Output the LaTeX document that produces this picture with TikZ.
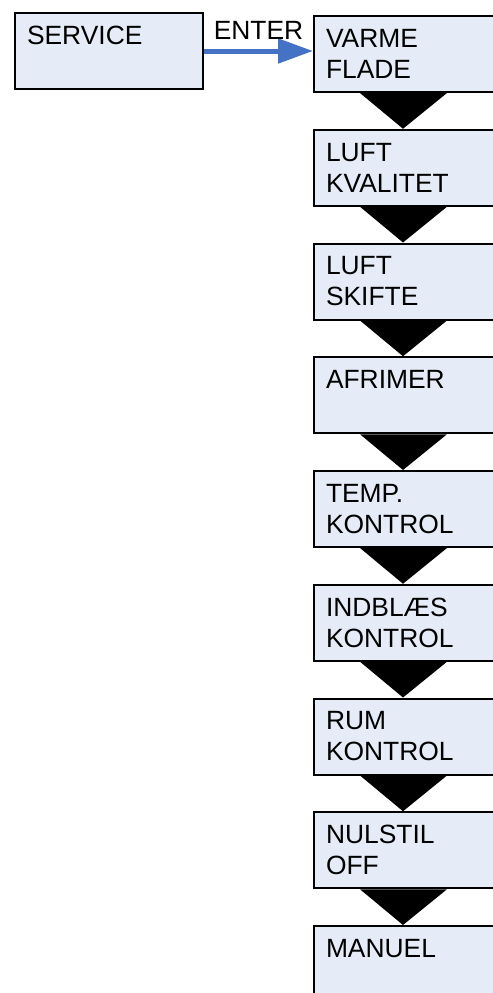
\documentclass[tikz,border=0pt]{standalone}
\usepackage{fontspec}
\setmainfont{Liberation Sans}
\usetikzlibrary{arrows.meta,calc}

\definecolor{boxfill}{RGB}{230,236,247}
\definecolor{enterblue}{RGB}{68,114,196}

\tikzset{
    menubox/.style={draw=black, line width=1pt, fill=boxfill, anchor=north west,
        minimum width=94pt, minimum height=38pt, text width=82pt, align=left,
        inner xsep=6pt, font=\fontsize{13.2}{15.5}\selectfont},
    wide/.style={minimum width=104pt, text width=92pt},
    stepdown/.style={fill=black},
}

\begin{document}
\begin{tikzpicture}[x=0.5pt,y=-0.5pt]
    \useasboundingbox (0,0) rectangle (493,993);
    \clip (0,0) rectangle (493,993);

    \node[menubox] (service) at (14,12) {SERVICE\\~};

    \foreach \t [count=\i] in {{VARME\\FLADE},{LUFT\\KVALITET},{LUFT\\SKIFTE},{AFRIMER\\~},
            {TEMP.\\KONTROL},{INDBLÆS\\KONTROL},{RUM\\KONTROL},{NULSTIL\\OFF},{MANUEL\\~}} {
        \node[menubox, wide] (b\i) at (313,{15+113.75*(\i-1)}) {\t};
    }

    \foreach \i [evaluate=\i as \j using int(\i+1)] in {1,...,8} {
        \fill[stepdown] ($(b\i.south west)+(47,0)$) -- ($(b\i.south west)+(134,0)$)
            -- ($(b\j.north west)+(90,0)$) -- cycle;
    }

    \draw[enterblue, line width=2.5pt, -{Triangle[length=17.5pt,width=12pt]}]
        (service.east) -- (service.east -| b1.west)
        node[midway, above=1pt, black, font=\fontsize{13.2}{15.5}\selectfont] {ENTER};
\end{tikzpicture}
\end{document}
